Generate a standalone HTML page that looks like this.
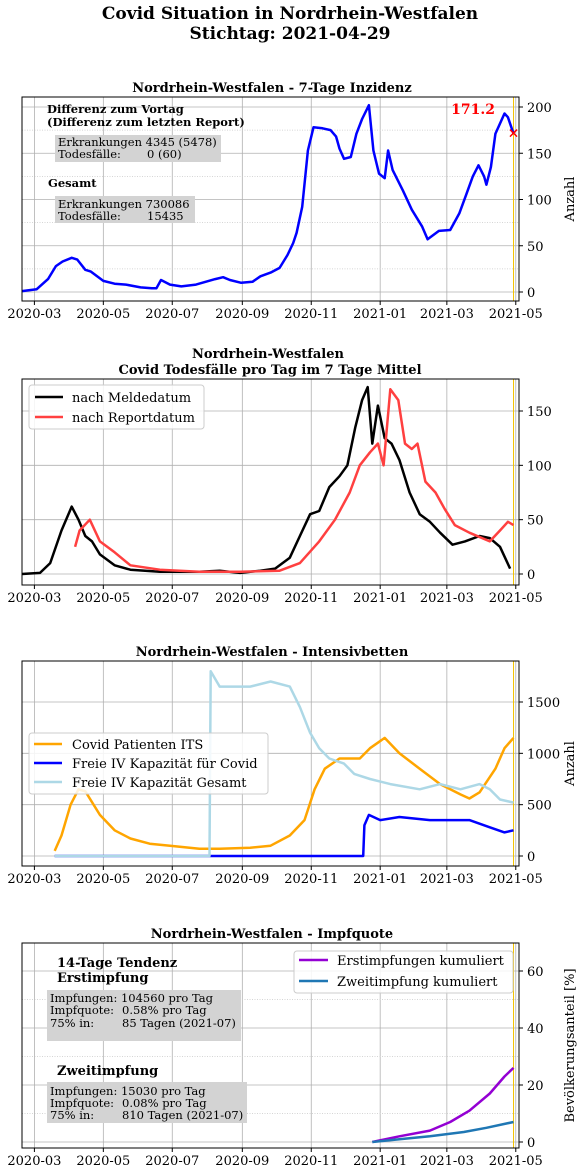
<!DOCTYPE html>
<html><head><meta charset="utf-8"><style>
body{margin:0;background:#fff}
svg{display:block;font-family:"DejaVu Serif","Liberation Serif",serif}
</style></head><body>
<svg id="s" width="582" height="1173" viewBox="0 0 582 1173">
<text x="290" y="19" text-anchor="middle" font-size="17" font-weight="bold">Covid Situation in Nordrhein-Westfalen</text>
<text x="290" y="39" text-anchor="middle" font-size="17" font-weight="bold">Stichtag: 2021-04-29</text>
</svg>
<script>
// day offsets from 2020-03-01
const incDays=[-11,2,12,19,25,33,38,45,50,61,71,81,94,104,108,112,120,130,143,160,167,173,183,193,200,209,217,224,229,232,237,242,247,255,262,267,270,274,280,285,290,296,300,305,310,313,317,326,334,343,348,358,368,376,382,388,393,398,400,404,408,416,419,424];
const incVals=[1,3,14,28,33,37,35,24,22,12,9,8,5,4,4,13,8,6,8,14,16,13,10,11,17,21,26,40,53,64,92,153,178,177,175,168,155,144,146,171,187,202,153,128,123,153,132,110,89,71,57,66,67,85,105,125,137,125,116,135,171,193,189,171.2];
const melDays=[-11,5,14,24,33,39,45,51,58,71,85,111,146,164,182,200,213,226,235,244,252,261,270,277,284,290,295,299,304,310,316,323,332,341,350,359,370,381,394,403,412,421];
const melVals=[0,1,10,40,62,50,35,30,18,8,4,2,2,3,1,3,5,15,35,55,58,80,90,100,135,160,172,120,155,125,120,105,75,55,48,38,27,30,35,33,25,5];
const repDays=[36,40,49,58,71,85,111,146,182,217,235,252,266,279,288,297,304,309,315,322,328,334,339,346,355,363,372,385,403,412,419,424];
const repVals=[25,40,50,30,20,8,4,2,2,3,10,30,50,75,100,112,120,100,170,160,120,115,120,85,75,60,45,38,30,40,48,45];
const itsDays=[18,24,32,39,45,58,71,85,102,120,146,164,191,209,226,239,248,257,270,288,297,310,323,341,359,377,385,394,408,416,424];
const itsVals=[50,200,500,650,630,400,250,170,120,100,70,70,80,100,200,350,650,850,950,950,1050,1150,1000,850,700,600,560,620,850,1050,1150];
const freeCovDays=[18,291,292,296,306,323,350,385,403,416,424];
const freeCovVals=[0,0,300,400,350,380,350,350,280,230,250];
const freeAllDays=[18,155,156,164,191,209,226,235,244,252,261,274,283,297,315,341,359,377,394,403,412,424];
const freeAllVals=[0,0,1800,1650,1650,1700,1650,1450,1200,1050,950,900,800,750,700,650,700,650,700,650,550,520];
const ersDays=[299,323,350,368,385,403,416,424];
const ersVals=[0,2,4,7,11,17,23,26];
const zwDays=[299,323,350,380,400,424];
const zwVals=[0,1,2,3.5,5,7];
const xTickLabels=["2020-03","2020-05","2020-07","2020-09","2020-11","2021-01","2021-03","2021-05"];
const xTickDays=[0,61,122,184,245,306,365,426];

const NS="http://www.w3.org/2000/svg";
const svg=document.getElementById('s');
const L=22,R=519;
function X(d){return 34.4+d*1.13;}
function el(tag,attrs,parent){const e=document.createElementNS(NS,tag);for(const k in attrs)e.setAttribute(k,attrs[k]);(parent||svg).appendChild(e);return e;}
function txt(x,y,s,attrs){const t=el('text',Object.assign({x:x,y:y},attrs||{}));t.textContent=s;return t;}

function chart(name,top,bot,y0px,ymax,ymaxPx,yticks,minor,ylabel){
  const Y=v=>y0px-(v/ymax)*(y0px-ymaxPx);
  const g=el('g',{});
  
  
  xTickDays.forEach((d,i)=>{
    const l=el('line',{x1:X(d),x2:X(d),y1:top,y2:bot,stroke:'#b0b0b0','stroke-width':0.8},g);
    
    
    el('line',{x1:X(d),x2:X(d),y1:bot,y2:bot+4,stroke:'#000'},g);
    const t=txt(X(d),bot+17,xTickLabels[i],{'text-anchor':'middle','font-size':13});
    
    
  });
  yticks.forEach(v=>{
    const l=el('line',{x1:L,x2:R,y1:Y(v),y2:Y(v),stroke:'#b0b0b0','stroke-width':0.8},g);
    
    
    el('line',{x1:R,x2:R+4,y1:Y(v),y2:Y(v),stroke:'#000'},g);
    const t=txt(R+8,Y(v)+5,String(v),{'font-size':13});
    
    
  });
  minor.forEach(v=>{
    el('line',{x1:L,x2:R,y1:Y(v),y2:Y(v),stroke:'#c8c8c8','stroke-width':0.7,'stroke-dasharray':'1,1.5'},g);
  });
  if(ylabel){
    const t=txt(0,0,ylabel,{'font-size':13,'text-anchor':'middle',transform:`translate(574,${(top+bot)/2}) rotate(-90)`});
    
    
  }
  el('line',{x1:X(424),x2:X(424),y1:top,y2:bot,stroke:'#f2c200','stroke-width':1},g);
  return {Y:Y,g:g,top:top,bot:bot};
}
function series(c,days,vals,color,name,w){
  const pts=days.map((d,i)=>X(d).toFixed(1)+','+c.Y(vals[i]).toFixed(1)).join(' ');
  const p=el('polyline',{points:pts,fill:'none',stroke:color,'stroke-width':w||2.5,'stroke-linejoin':'round'},c.g);
  
  
}
function frame(c){el('rect',{x:L,y:c.top,width:R-L,height:c.bot-c.top,fill:'none',stroke:'#000','stroke-width':1},c.g);}

// Chart 1
txt(272,92,'Nordrhein-Westfalen - 7-Tage Inzidenz',{'text-anchor':'middle','font-size':13,'font-weight':'bold'});
const c1=chart('incidence-chart',97,301,292,200,107,[0,50,100,150,200],[25,75,125,175],'Anzahl');
series(c1,incDays,incVals,'#0000ff','incidence-line',2.5);
txt(X(424),c1.Y(171.2)+4,'×',{'text-anchor':'middle','font-size':14,fill:'#ff0000','font-weight':'bold'});
txt(495,114,'171.2',{'text-anchor':'end','font-size':14,fill:'#ff0000','font-weight':'bold'});
txt(47,113,'Differenz zum Vortag',{'font-size':11.5,'font-weight':'bold'});
txt(47,126,'(Differenz zum letzten Report)',{'font-size':11.5,'font-weight':'bold'});
el('rect',{x:55,y:135,width:166,height:27,fill:'#d3d3d3'});
txt(58,146,'Erkrankungen 4345 (5478)',{'font-size':11.5});
txt(58,158,'Todesfälle:',{'font-size':11.5});txt(147,158,'0 (60)',{'font-size':11.5});
txt(48,187,'Gesamt',{'font-size':11.5,'font-weight':'bold'});
el('rect',{x:55,y:196,width:140,height:27,fill:'#d3d3d3'});
txt(58,208,'Erkrankungen 730086',{'font-size':11.5});
txt(58,220,'Todesfälle:',{'font-size':11.5});txt(147,220,'15435',{'font-size':11.5});
frame(c1);

// Chart 2
txt(268,358,'Nordrhein-Westfalen',{'text-anchor':'middle','font-size':13,'font-weight':'bold'});
txt(270,374,'Covid Todesfälle pro Tag im 7 Tage Mittel',{'text-anchor':'middle','font-size':13,'font-weight':'bold'});
const c2=chart('deaths-chart',379,585,574,150,411,[0,50,100,150],[],null);
series(c2,melDays,melVals,'#000000','meldedatum-line',2.5);
series(c2,repDays,repVals,'#ff4040','reportdatum-line',2.5);
const lg2=el('g',{});


el('rect',{x:29,y:385,width:175,height:44,rx:3,fill:'#fff','fill-opacity':0.85,stroke:'#ccc'},lg2);
el('line',{x1:35,x2:63,y1:397,y2:397,stroke:'#000','stroke-width':2.5},lg2);
txt(72,402,'nach Meldedatum',{'font-size':13},lg2);
el('line',{x1:35,x2:63,y1:417,y2:417,stroke:'#ff4040','stroke-width':2.5},lg2);
txt(72,422,'nach Reportdatum',{'font-size':13},lg2);
lg2.appendChild(svg.lastChild);
frame(c2);

// Chart 3
txt(272,656,'Nordrhein-Westfalen - Intensivbetten',{'text-anchor':'middle','font-size':13,'font-weight':'bold'});
const c3=chart('icu-chart',661,866,856,1500,702,[0,500,1000,1500],[],'Anzahl');
series(c3,itsDays,itsVals,'#ffa500','covid-its-line',2.5);
series(c3,freeCovDays,freeCovVals,'#0000ff','free-covid-capacity-line',2.5);
series(c3,freeAllDays,freeAllVals,'#add8e6','free-total-capacity-line',2.5);
const lg3=el('g',{});


el('rect',{x:29,y:733,width:239,height:61,rx:3,fill:'#fff','fill-opacity':0.85,stroke:'#ccc'},lg3);
[['Covid Patienten ITS','#ffa500',744],['Freie IV Kapazität für Covid','#0000ff',763],['Freie IV Kapazität Gesamt','#add8e6',782]].forEach(e=>{
  el('line',{x1:34,x2:62,y1:e[2],y2:e[2],stroke:e[1],'stroke-width':2.5},lg3);
  const t=txt(72,e[2]+5,e[0],{'font-size':13});lg3.appendChild(t);
});
frame(c3);

// Chart 4
txt(272,938,'Nordrhein-Westfalen - Impfquote',{'text-anchor':'middle','font-size':13,'font-weight':'bold'});
const c4=chart('vaccination-chart',943,1148,1142,60,971,[0,20,40,60],[10,30,50],'Bevölkerungsanteil [%]');
series(c4,ersDays,ersVals,'#9400d3','first-dose-line',2.5);
series(c4,zwDays,zwVals,'#1f77b4','second-dose-line',2.5);
txt(57,967,'14-Tage Tendenz',{'font-size':13,'font-weight':'bold'});
txt(57,982,'Erstimpfung',{'font-size':13,'font-weight':'bold'});
el('rect',{x:47,y:990,width:194,height:51,fill:'#d3d3d3'});
txt(50,1002,'Impfungen: 104560 pro Tag',{'font-size':11.5});
txt(50,1014,'Impfquote:',{'font-size':11.5});txt(122,1014,'0.58% pro Tag',{'font-size':11.5});
txt(50,1027,'75% in:',{'font-size':11.5});txt(122,1027,'85 Tagen (2021-07)',{'font-size':11.5});
txt(57,1075,'Zweitimpfung',{'font-size':13,'font-weight':'bold'});
el('rect',{x:47,y:1082,width:200,height:41,fill:'#d3d3d3'});
txt(50,1095,'Impfungen: 15030 pro Tag',{'font-size':11.5});
txt(50,1107,'Impfquote:',{'font-size':11.5});txt(122,1107,'0.08% pro Tag',{'font-size':11.5});
txt(50,1119,'75% in:',{'font-size':11.5});txt(122,1119,'810 Tagen (2021-07)',{'font-size':11.5});
const lg4=el('g',{});


el('rect',{x:294,y:951,width:219,height:42,rx:3,fill:'#fff','fill-opacity':0.85,stroke:'#ccc'},lg4);
el('line',{x1:299,x2:328,y1:960,y2:960,stroke:'#9400d3','stroke-width':2.5},lg4);
lg4.appendChild(txt(337,965,'Erstimpfungen kumuliert',{'font-size':13}));
el('line',{x1:299,x2:328,y1:981,y2:981,stroke:'#1f77b4','stroke-width':2.5},lg4);
lg4.appendChild(txt(337,986,'Zweitimpfung kumuliert',{'font-size':13}));
frame(c4);
</script>
</body></html>
